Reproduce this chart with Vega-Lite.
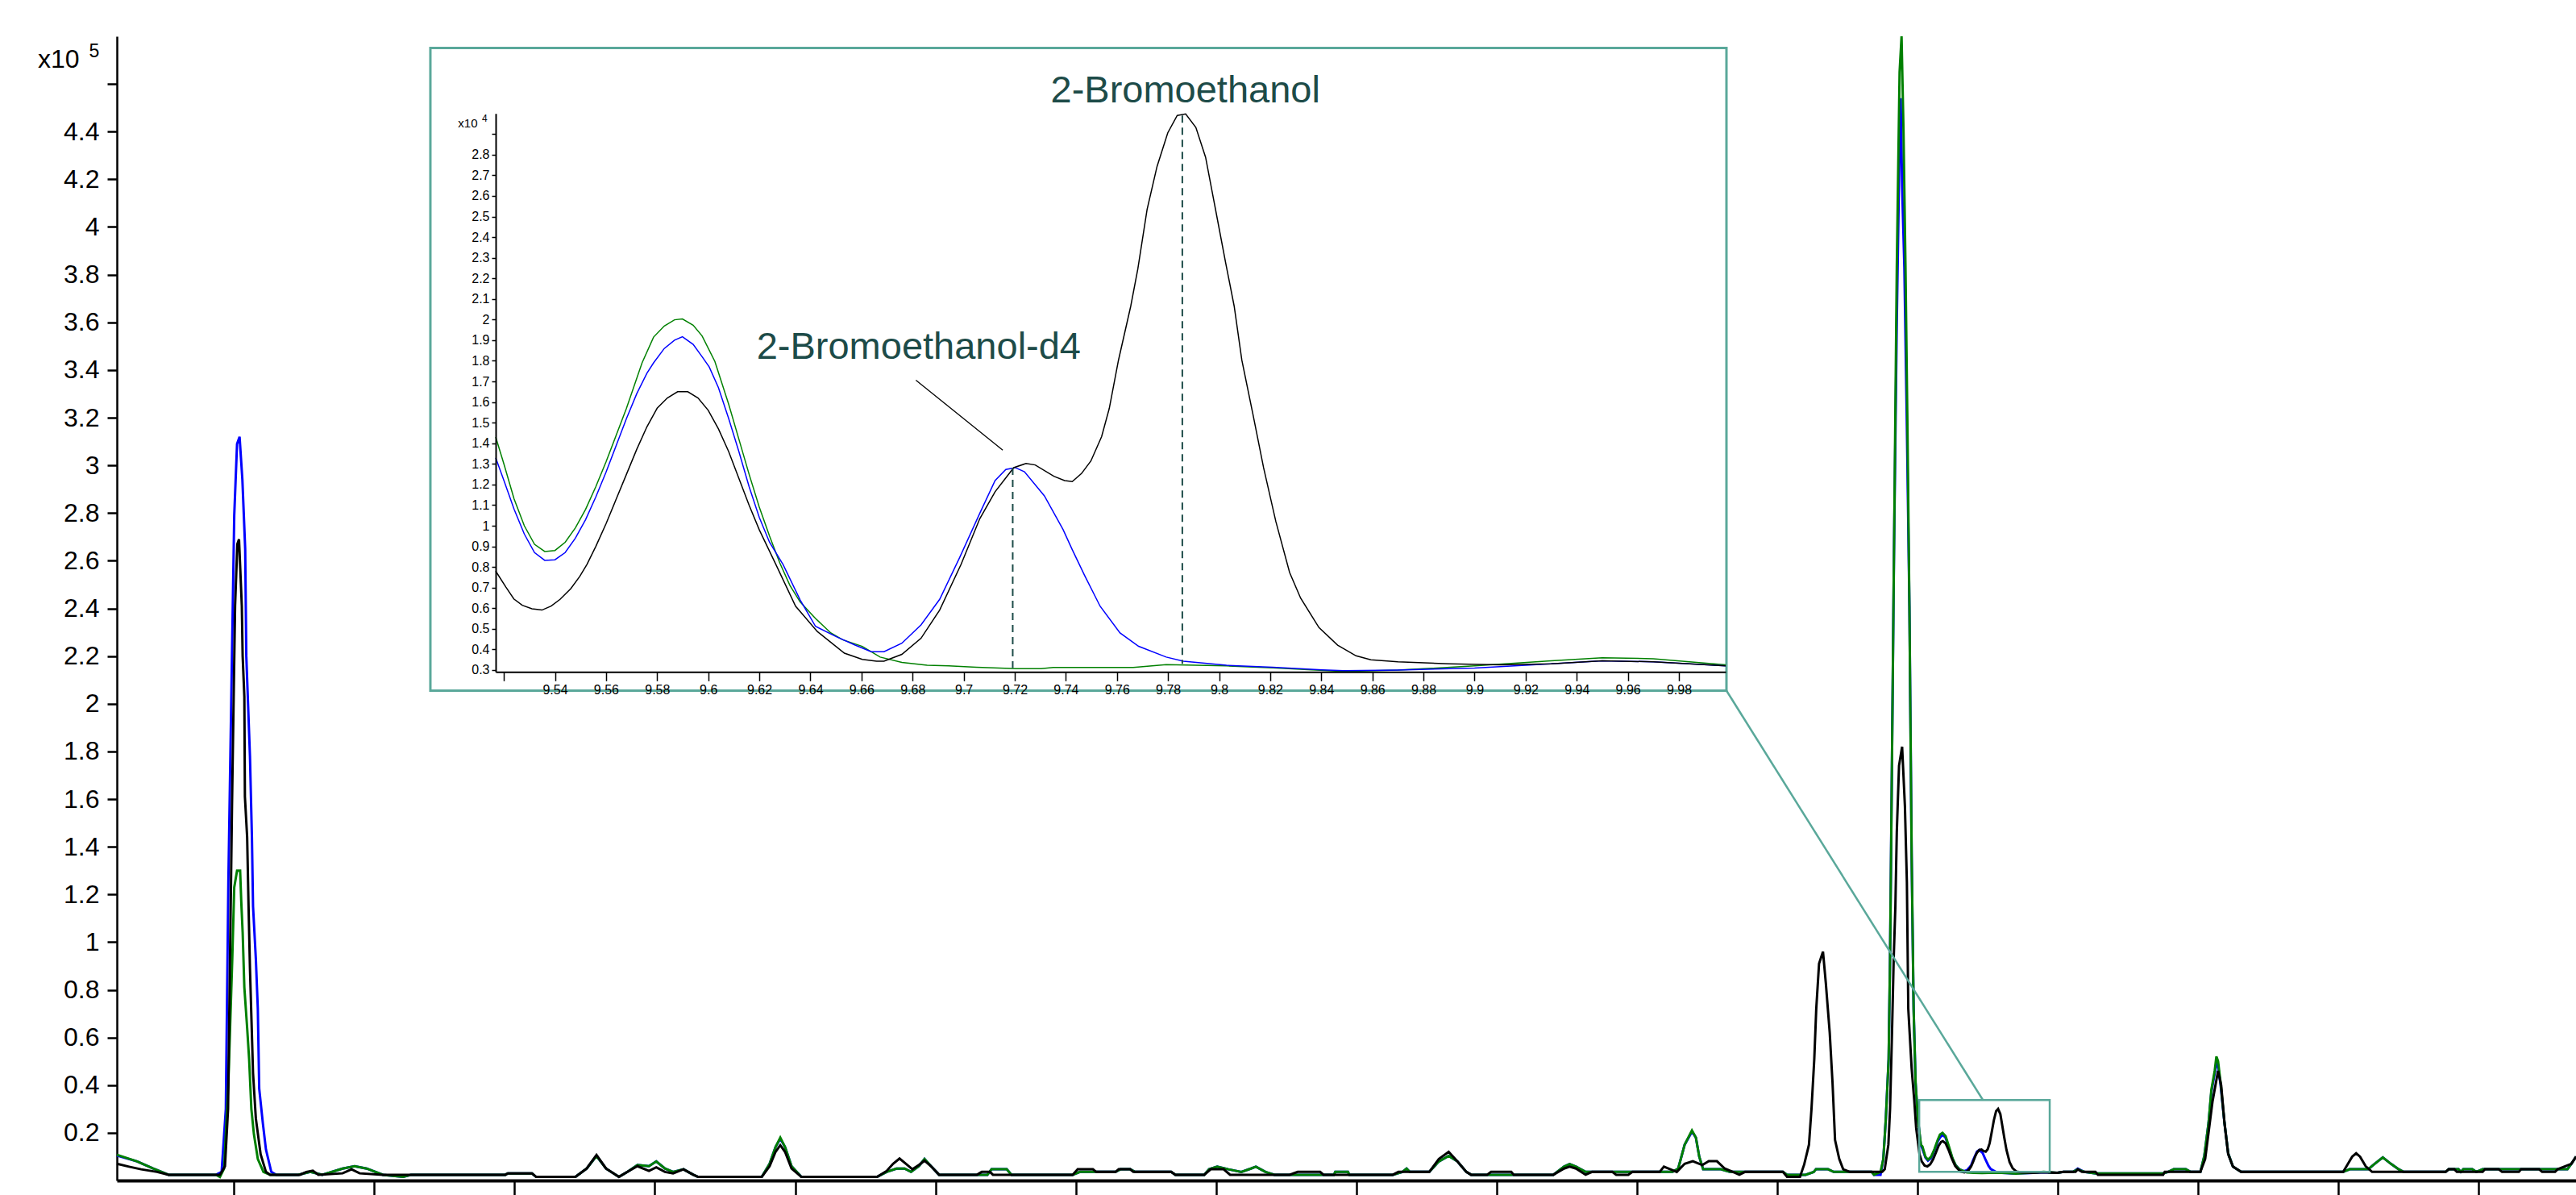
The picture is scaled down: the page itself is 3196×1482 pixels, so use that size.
{
  "$schema": "https://vega.github.io/schema/vega-lite/v6.json",
  "width": 3051,
  "height": 1419,
  "autosize": {"type": "none"},
  "padding": {"left": 145, "top": 45, "right": 0, "bottom": 18},
  "background": "white",
  "config": {
    "view": {"stroke": null},
    "font": "Liberation Sans",
    "axis": {"grid": false, "domainColor": "#000", "tickColor": "#000", "labelColor": "#000", "titleColor": "#000", "titleFontWeight": "normal", "labelFont": "Liberation Sans", "titleFont": "Liberation Sans", "labelOverlap": false, "labelFlush": false}
  },
  "datasets": {
    "mainBlue": [
      {"t":3.083,"v":0.105},{"t":3.155,"v":0.08},{"t":3.212,"v":0.05},{"t":3.267,"v":0.024},{"t":3.436,"v":0.024},{"t":3.456,"v":0.036},{"t":3.471,"v":0.3},{"t":3.48,"v":1.25},{"t":3.49,"v":1.99},{"t":3.501,"v":2.79},{"t":3.511,"v":3.09},{"t":3.52,"v":3.12},{"t":3.53,"v":2.94},{"t":3.54,"v":2.65},{"t":3.544,"v":2.2},{"t":3.557,"v":1.78},{"t":3.564,"v":1.44},{"t":3.568,"v":1.15},{"t":3.578,"v":0.93},{"t":3.585,"v":0.72},{"t":3.59,"v":0.385},{"t":3.603,"v":0.24},{"t":3.614,"v":0.13},{"t":3.633,"v":0.036},{"t":3.65,"v":0.024},
      {"t":3.729,"v":0.024},{"t":3.772,"v":0.036},{"t":3.815,"v":0.024},{"t":3.887,"v":0.05},{"t":3.93,"v":0.06},{"t":3.973,"v":0.05},{"t":4.031,"v":0.024},{"t":4.103,"v":0.015},{"t":4.131,"v":0.024},{"t":4.467,"v":0.024},{"t":4.476,"v":0.03},{"t":4.562,"v":0.03},{"t":4.577,"v":0.015},{"t":4.717,"v":0.015},{"t":4.757,"v":0.05},{"t":4.792,"v":0.103},{"t":4.826,"v":0.05},{"t":4.872,"v":0.015},{"t":4.907,"v":0.04},{"t":4.938,"v":0.065},{"t":4.979,"v":0.06},{"t":5.005,"v":0.08},{"t":5.036,"v":0.05},{"t":5.065,"v":0.036},{"t":5.102,"v":0.047},{"t":5.137,"v":0.024},{"t":5.154,"v":0.015},{"t":5.381,"v":0.015},{"t":5.409,"v":0.07},{"t":5.43,"v":0.14},{"t":5.447,"v":0.175},{"t":5.464,"v":0.14},{"t":5.487,"v":0.06},{"t":5.522,"v":0.015},{"t":5.792,"v":0.015},{"t":5.826,"v":0.036},{"t":5.861,"v":0.05},{"t":5.89,"v":0.05},{"t":5.913,"v":0.036},{"t":5.941,"v":0.06},{"t":5.961,"v":0.09},{"t":5.984,"v":0.06},{"t":6.013,"v":0.024},{"t":6.185,"v":0.024},{"t":6.2,"v":0.047},{"t":6.254,"v":0.047},{"t":6.271,"v":0.024},{"t":6.489,"v":0.024},{"t":6.515,"v":0.036},{"t":6.642,"v":0.036},{"t":6.659,"v":0.047},{"t":6.694,"v":0.047},{"t":6.711,"v":0.036},{"t":6.84,"v":0.036},{"t":6.855,"v":0.024},{"t":6.958,"v":0.024},{"t":6.975,"v":0.047},{"t":7.004,"v":0.058},{"t":7.044,"v":0.047},{"t":7.09,"v":0.036},{"t":7.124,"v":0.05},{"t":7.142,"v":0.058},{"t":7.176,"v":0.036},{"t":7.208,"v":0.024},{"t":7.42,"v":0.024},{"t":7.425,"v":0.036},{"t":7.47,"v":0.036},{"t":7.475,"v":0.024},{"t":7.63,"v":0.024},{"t":7.664,"v":0.036},{"t":7.679,"v":0.05},{"t":7.69,"v":0.036},{"t":7.76,"v":0.036},{"t":7.794,"v":0.08},{"t":7.829,"v":0.103},{"t":7.86,"v":0.08},{"t":7.892,"v":0.036},{"t":7.909,"v":0.024},{"t":8.202,"v":0.024},{"t":8.24,"v":0.058},{"t":8.26,"v":0.069},{"t":8.283,"v":0.058},{"t":8.317,"v":0.036},{"t":8.627,"v":0.036},{"t":8.647,"v":0.05},{"t":8.67,"v":0.15},{"t":8.696,"v":0.205},{"t":8.71,"v":0.18},{"t":8.722,"v":0.1},{"t":8.736,"v":0.047},{"t":8.799,"v":0.047},{"t":8.831,"v":0.036},{"t":9.02,"v":0.036},{"t":9.035,"v":0.024},{"t":9.101,"v":0.024},{"t":9.13,"v":0.036},{"t":9.138,"v":0.047},{"t":9.181,"v":0.047},{"t":9.201,"v":0.036},{"t":9.336,"v":0.036},{"t":9.345,"v":0.024},
      {"t":9.368,"v":0.024},{"t":9.378,"v":0.09},{"t":9.387,"v":0.26},{"t":9.397,"v":0.51},{"t":9.402,"v":0.93},{"t":9.409,"v":1.78},{"t":9.416,"v":2.63},{"t":9.426,"v":3.6},{"t":9.436,"v":4.35},{"t":9.44,"v":4.54},{"t":9.445,"v":4.17},{"t":9.453,"v":3.83},{"t":9.462,"v":3.16},{"t":9.471,"v":2.41},{"t":9.479,"v":1.36},{"t":9.486,"v":0.72},{"t":9.493,"v":0.41},{"t":9.501,"v":0.26},{"t":9.512,"v":0.145},
      {"t":9.5173,"v":0.133},{"t":9.528,"v":0.096},{"t":9.537,"v":0.083},{"t":9.548,"v":0.094},{"t":9.56,"v":0.126},{"t":9.572,"v":0.164},{"t":9.58,"v":0.18},{"t":9.59,"v":0.192},{"t":9.6,"v":0.179},{"t":9.612,"v":0.136},{"t":9.624,"v":0.092},{"t":9.636,"v":0.064},{"t":9.65,"v":0.046},{"t":9.666,"v":0.039},{"t":9.676,"v":0.043},{"t":9.683,"v":0.052},{"t":9.691,"v":0.064},{"t":9.698,"v":0.085},{"t":9.706,"v":0.106},{"t":9.712,"v":0.122},{"t":9.72,"v":0.128},{"t":9.732,"v":0.115},{"t":9.742,"v":0.088},{"t":9.753,"v":0.061},{"t":9.761,"v":0.048},{"t":9.779,"v":0.036},{"t":9.8,"v":0.032},{"t":9.84,"v":0.03},{"t":9.9,"v":0.031},{"t":9.95,"v":0.0345},{"t":9.998,"v":0.032},
      {"t":10.02,"v":0.036},{"t":10.054,"v":0.036},{"t":10.071,"v":0.05},{"t":10.094,"v":0.036},{"t":10.134,"v":0.03},{"t":10.375,"v":0.03},{"t":10.393,"v":0.036},{"t":10.413,"v":0.047},{"t":10.456,"v":0.047},{"t":10.473,"v":0.036},{"t":10.508,"v":0.036},{"t":10.522,"v":0.103},{"t":10.537,"v":0.24},{"t":10.547,"v":0.37},{"t":10.559,"v":0.45},{"t":10.565,"v":0.49},{"t":10.571,"v":0.48},{"t":10.58,"v":0.4},{"t":10.594,"v":0.24},{"t":10.607,"v":0.114},{"t":10.624,"v":0.058},{"t":10.653,"v":0.036},{"t":11.017,"v":0.036},{"t":11.04,"v":0.047},{"t":11.106,"v":0.047},{"t":11.129,"v":0.07},{"t":11.158,"v":0.097},{"t":11.187,"v":0.07},{"t":11.215,"v":0.047},{"t":11.232,"v":0.036},{"t":11.382,"v":0.036},{"t":11.393,"v":0.047},{"t":11.428,"v":0.047},{"t":11.436,"v":0.036},{"t":11.445,"v":0.047},{"t":11.477,"v":0.047},{"t":11.491,"v":0.036},{"t":11.514,"v":0.047},{"t":11.816,"v":0.047},{"t":11.83,"v":0.07},{"t":11.847,"v":0.1}
    ],
    "mainGreen": [
      {"t":3.083,"v":0.108},{"t":3.155,"v":0.08},{"t":3.212,"v":0.05},{"t":3.267,"v":0.024},{"t":3.436,"v":0.024},{"t":3.45,"v":0.015},{"t":3.465,"v":0.05},{"t":3.48,"v":0.41},{"t":3.494,"v":0.93},{"t":3.501,"v":1.23},{"t":3.511,"v":1.3},{"t":3.522,"v":1.3},{"t":3.526,"v":1.17},{"t":3.531,"v":1.04},{"t":3.537,"v":0.81},{"t":3.547,"v":0.64},{"t":3.554,"v":0.51},{"t":3.562,"v":0.3},{"t":3.571,"v":0.195},{"t":3.585,"v":0.09},{"t":3.605,"v":0.036},{"t":3.629,"v":0.024},
      {"t":3.729,"v":0.024},{"t":3.772,"v":0.036},{"t":3.815,"v":0.024},{"t":3.887,"v":0.05},{"t":3.93,"v":0.06},{"t":3.973,"v":0.05},{"t":4.031,"v":0.024},{"t":4.103,"v":0.015},{"t":4.131,"v":0.024},{"t":4.467,"v":0.024},{"t":4.476,"v":0.03},{"t":4.562,"v":0.03},{"t":4.577,"v":0.015},{"t":4.717,"v":0.015},{"t":4.757,"v":0.05},{"t":4.792,"v":0.103},{"t":4.826,"v":0.05},{"t":4.872,"v":0.015},{"t":4.907,"v":0.04},{"t":4.938,"v":0.065},{"t":4.979,"v":0.06},{"t":5.005,"v":0.08},{"t":5.036,"v":0.05},{"t":5.065,"v":0.036},{"t":5.102,"v":0.047},{"t":5.137,"v":0.024},{"t":5.154,"v":0.015},{"t":5.381,"v":0.015},{"t":5.409,"v":0.07},{"t":5.43,"v":0.14},{"t":5.447,"v":0.18},{"t":5.464,"v":0.14},{"t":5.487,"v":0.06},{"t":5.522,"v":0.015},{"t":5.792,"v":0.015},{"t":5.826,"v":0.036},{"t":5.861,"v":0.05},{"t":5.89,"v":0.05},{"t":5.913,"v":0.036},{"t":5.941,"v":0.06},{"t":5.961,"v":0.09},{"t":5.984,"v":0.06},{"t":6.013,"v":0.024},{"t":6.185,"v":0.024},{"t":6.2,"v":0.047},{"t":6.254,"v":0.047},{"t":6.271,"v":0.024},{"t":6.489,"v":0.024},{"t":6.515,"v":0.036},{"t":6.642,"v":0.036},{"t":6.659,"v":0.047},{"t":6.694,"v":0.047},{"t":6.711,"v":0.036},{"t":6.84,"v":0.036},{"t":6.855,"v":0.024},{"t":6.958,"v":0.024},{"t":6.975,"v":0.047},{"t":7.004,"v":0.058},{"t":7.044,"v":0.047},{"t":7.09,"v":0.036},{"t":7.124,"v":0.05},{"t":7.142,"v":0.058},{"t":7.176,"v":0.036},{"t":7.208,"v":0.024},{"t":7.42,"v":0.024},{"t":7.425,"v":0.036},{"t":7.47,"v":0.036},{"t":7.475,"v":0.024},{"t":7.63,"v":0.024},{"t":7.664,"v":0.036},{"t":7.679,"v":0.05},{"t":7.69,"v":0.036},{"t":7.76,"v":0.036},{"t":7.794,"v":0.08},{"t":7.829,"v":0.103},{"t":7.86,"v":0.08},{"t":7.892,"v":0.036},{"t":7.909,"v":0.024},{"t":8.202,"v":0.024},{"t":8.24,"v":0.058},{"t":8.26,"v":0.069},{"t":8.283,"v":0.058},{"t":8.317,"v":0.036},{"t":8.627,"v":0.036},{"t":8.647,"v":0.05},{"t":8.67,"v":0.15},{"t":8.696,"v":0.21},{"t":8.71,"v":0.18},{"t":8.722,"v":0.1},{"t":8.736,"v":0.047},{"t":8.799,"v":0.047},{"t":8.831,"v":0.036},{"t":9.02,"v":0.036},{"t":9.035,"v":0.024},{"t":9.101,"v":0.024},{"t":9.13,"v":0.036},{"t":9.138,"v":0.047},{"t":9.181,"v":0.047},{"t":9.201,"v":0.036},{"t":9.336,"v":0.036},{"t":9.345,"v":0.024},
      {"t":9.368,"v":0.036},{"t":9.378,"v":0.09},{"t":9.387,"v":0.26},{"t":9.397,"v":0.51},{"t":9.402,"v":0.93},{"t":9.409,"v":1.78},{"t":9.416,"v":2.63},{"t":9.426,"v":3.83},{"t":9.436,"v":4.65},{"t":9.443,"v":4.8},{"t":9.45,"v":4.4},{"t":9.457,"v":3.83},{"t":9.464,"v":3.16},{"t":9.471,"v":2.41},{"t":9.479,"v":1.36},{"t":9.486,"v":0.72},{"t":9.493,"v":0.41},{"t":9.501,"v":0.26},{"t":9.512,"v":0.15},
      {"t":9.5173,"v":0.143},{"t":9.528,"v":0.1},{"t":9.537,"v":0.0875},{"t":9.548,"v":0.099},{"t":9.56,"v":0.131},{"t":9.572,"v":0.171},{"t":9.58,"v":0.193},{"t":9.589,"v":0.2},{"t":9.6,"v":0.186},{"t":9.612,"v":0.142},{"t":9.624,"v":0.095},{"t":9.636,"v":0.063},{"t":9.648,"v":0.048},{"t":9.66,"v":0.041},{"t":9.676,"v":0.034},{"t":9.7,"v":0.032},{"t":9.73,"v":0.031},{"t":9.78,"v":0.033},{"t":9.82,"v":0.031},{"t":9.85,"v":0.029},{"t":9.9,"v":0.032},{"t":9.95,"v":0.036},{"t":9.998,"v":0.0325},
      {"t":10.02,"v":0.036},{"t":10.054,"v":0.036},{"t":10.071,"v":0.047},{"t":10.094,"v":0.036},{"t":10.134,"v":0.03},{"t":10.375,"v":0.03},{"t":10.393,"v":0.036},{"t":10.413,"v":0.047},{"t":10.456,"v":0.047},{"t":10.473,"v":0.036},{"t":10.508,"v":0.036},{"t":10.522,"v":0.103},{"t":10.537,"v":0.24},{"t":10.547,"v":0.38},{"t":10.559,"v":0.46},{"t":10.565,"v":0.52},{"t":10.571,"v":0.5},{"t":10.58,"v":0.41},{"t":10.594,"v":0.24},{"t":10.607,"v":0.114},{"t":10.624,"v":0.058},{"t":10.653,"v":0.036},{"t":11.017,"v":0.036},{"t":11.04,"v":0.047},{"t":11.106,"v":0.047},{"t":11.129,"v":0.07},{"t":11.158,"v":0.097},{"t":11.187,"v":0.07},{"t":11.215,"v":0.047},{"t":11.232,"v":0.036},{"t":11.382,"v":0.036},{"t":11.393,"v":0.047},{"t":11.428,"v":0.047},{"t":11.436,"v":0.036},{"t":11.445,"v":0.047},{"t":11.477,"v":0.047},{"t":11.491,"v":0.036},{"t":11.514,"v":0.047},{"t":11.816,"v":0.047},{"t":11.83,"v":0.07},{"t":11.847,"v":0.1}
    ],
    "mainBlack": [
      {"t":3.083,"v":0.07},{"t":3.126,"v":0.058},{"t":3.169,"v":0.047},{"t":3.226,"v":0.036},{"t":3.267,"v":0.024},{"t":3.45,"v":0.024},{"t":3.468,"v":0.06},{"t":3.479,"v":0.3},{"t":3.493,"v":1.57},{"t":3.504,"v":2.41},{"t":3.512,"v":2.67},{"t":3.518,"v":2.69},{"t":3.528,"v":2.41},{"t":3.531,"v":2.2},{"t":3.537,"v":2.03},{"t":3.539,"v":1.61},{"t":3.547,"v":1.44},{"t":3.552,"v":1.15},{"t":3.557,"v":0.89},{"t":3.568,"v":0.45},{"t":3.578,"v":0.26},{"t":3.595,"v":0.11},{"t":3.614,"v":0.036},{"t":3.629,"v":0.024},{"t":3.735,"v":0.024},{"t":3.758,"v":0.036},{"t":3.781,"v":0.041},{"t":3.801,"v":0.024},{"t":3.887,"v":0.03},{"t":3.919,"v":0.047},{"t":3.948,"v":0.03},{"t":4.031,"v":0.024},{"t":4.467,"v":0.024},{"t":4.476,"v":0.03},{"t":4.562,"v":0.03},{"t":4.577,"v":0.015},{"t":4.717,"v":0.015},{"t":4.757,"v":0.05},{"t":4.792,"v":0.107},{"t":4.826,"v":0.05},{"t":4.872,"v":0.015},{"t":4.907,"v":0.04},{"t":4.938,"v":0.06},{"t":4.979,"v":0.04},{"t":5.005,"v":0.055},{"t":5.036,"v":0.036},{"t":5.065,"v":0.03},{"t":5.102,"v":0.047},{"t":5.137,"v":0.024},{"t":5.154,"v":0.015},{"t":5.381,"v":0.015},{"t":5.409,"v":0.06},{"t":5.43,"v":0.12},{"t":5.447,"v":0.148},{"t":5.464,"v":0.12},{"t":5.487,"v":0.05},{"t":5.522,"v":0.015},{"t":5.792,"v":0.015},{"t":5.826,"v":0.04},{"t":5.849,"v":0.07},{"t":5.872,"v":0.092},{"t":5.895,"v":0.07},{"t":5.918,"v":0.047},{"t":5.941,"v":0.065},{"t":5.961,"v":0.083},{"t":5.984,"v":0.06},{"t":6.013,"v":0.024},{"t":6.148,"v":0.024},{"t":6.165,"v":0.036},{"t":6.194,"v":0.036},{"t":6.205,"v":0.024},{"t":6.489,"v":0.024},{"t":6.507,"v":0.047},{"t":6.561,"v":0.047},{"t":6.573,"v":0.036},{"t":6.642,"v":0.036},{"t":6.653,"v":0.047},{"t":6.694,"v":0.047},{"t":6.705,"v":0.036},{"t":6.84,"v":0.036},{"t":6.855,"v":0.024},{"t":6.958,"v":0.024},{"t":6.981,"v":0.047},{"t":7.027,"v":0.047},{"t":7.05,"v":0.024},{"t":7.262,"v":0.024},{"t":7.291,"v":0.036},{"t":7.371,"v":0.036},{"t":7.383,"v":0.024},{"t":7.63,"v":0.024},{"t":7.65,"v":0.036},{"t":7.76,"v":0.036},{"t":7.794,"v":0.09},{"t":7.829,"v":0.12},{"t":7.86,"v":0.08},{"t":7.892,"v":0.036},{"t":7.909,"v":0.024},{"t":7.966,"v":0.024},{"t":7.98,"v":0.036},{"t":8.052,"v":0.036},{"t":8.061,"v":0.024},{"t":8.202,"v":0.024},{"t":8.24,"v":0.05},{"t":8.26,"v":0.058},{"t":8.283,"v":0.05},{"t":8.317,"v":0.024},{"t":8.34,"v":0.036},{"t":8.412,"v":0.036},{"t":8.426,"v":0.024},{"t":8.469,"v":0.024},{"t":8.484,"v":0.036},{"t":8.581,"v":0.036},{"t":8.596,"v":0.058},{"t":8.619,"v":0.047},{"t":8.642,"v":0.036},{"t":8.67,"v":0.07},{"t":8.699,"v":0.081},{"t":8.733,"v":0.065},{"t":8.756,"v":0.081},{"t":8.785,"v":0.081},{"t":8.813,"v":0.05},{"t":8.842,"v":0.036},{"t":8.865,"v":0.024},{"t":8.885,"v":0.036},{"t":9.02,"v":0.036},{"t":9.035,"v":0.015},{"t":9.081,"v":0.015},{"t":9.096,"v":0.067},{"t":9.113,"v":0.15},{"t":9.122,"v":0.3},{"t":9.132,"v":0.51},{"t":9.139,"v":0.72},{"t":9.149,"v":0.91},{"t":9.163,"v":0.96},{"t":9.173,"v":0.83},{"t":9.187,"v":0.62},{"t":9.197,"v":0.41},{"t":9.206,"v":0.17},{"t":9.221,"v":0.09},{"t":9.235,"v":0.047},{"t":9.259,"v":0.036},{"t":9.374,"v":0.036},{"t":9.383,"v":0.047},{"t":9.396,"v":0.15},{"t":9.402,"v":0.3},{"t":9.409,"v":0.62},{"t":9.415,"v":0.93},{"t":9.421,"v":1.15},{"t":9.426,"v":1.46},{"t":9.434,"v":1.74},{"t":9.445,"v":1.82},{"t":9.455,"v":1.57},{"t":9.462,"v":1.25},{"t":9.467,"v":0.72},{"t":9.479,"v":0.47},{"t":9.488,"v":0.34},{"t":9.495,"v":0.22},{"t":9.507,"v":0.11},{"t":9.515,"v":0.08},{"t":9.525,"v":0.063},{"t":9.535,"v":0.059},{"t":9.545,"v":0.068},{"t":9.555,"v":0.088},{"t":9.565,"v":0.116},{"t":9.575,"v":0.146},{"t":9.584,"v":0.162},{"t":9.59,"v":0.165},{"t":9.6,"v":0.156},{"t":9.61,"v":0.13},{"t":9.62,"v":0.098},{"t":9.6265,"v":0.081},{"t":9.634,"v":0.061},{"t":9.643,"v":0.049},{"t":9.653,"v":0.038},{"t":9.667,"v":0.034},{"t":9.676,"v":0.038},{"t":9.683,"v":0.045},{"t":9.691,"v":0.059},{"t":9.699,"v":0.081},{"t":9.706,"v":0.103},{"t":9.712,"v":0.117},{"t":9.72,"v":0.128},{"t":9.728,"v":0.13},{"t":9.735,"v":0.124},{"t":9.743,"v":0.121},{"t":9.75,"v":0.131},{"t":9.757,"v":0.157},{"t":9.765,"v":0.207},{"t":9.772,"v":0.253},{"t":9.78,"v":0.291},{"t":9.787,"v":0.3},{"t":9.795,"v":0.279},{"t":9.802,"v":0.23},{"t":9.809,"v":0.18},{"t":9.817,"v":0.128},{"t":9.828,"v":0.077},{"t":9.839,"v":0.051},{"t":9.853,"v":0.037},{"t":9.87,"v":0.034},{"t":9.91,"v":0.0325},{"t":9.95,"v":0.0345},{"t":9.998,"v":0.032},{"t":10.02,"v":0.036},{"t":10.063,"v":0.036},{"t":10.071,"v":0.047},{"t":10.086,"v":0.036},{"t":10.134,"v":0.036},{"t":10.143,"v":0.024},{"t":10.375,"v":0.024},{"t":10.381,"v":0.036},{"t":10.508,"v":0.036},{"t":10.525,"v":0.09},{"t":10.537,"v":0.2},{"t":10.551,"v":0.33},{"t":10.571,"v":0.46},{"t":10.582,"v":0.4},{"t":10.594,"v":0.24},{"t":10.607,"v":0.11},{"t":10.624,"v":0.058},{"t":10.653,"v":0.036},{"t":11.017,"v":0.036},{"t":11.034,"v":0.07},{"t":11.049,"v":0.1},{"t":11.063,"v":0.114},{"t":11.077,"v":0.1},{"t":11.097,"v":0.06},{"t":11.12,"v":0.036},{"t":11.382,"v":0.036},{"t":11.393,"v":0.047},{"t":11.413,"v":0.047},{"t":11.422,"v":0.036},{"t":11.514,"v":0.036},{"t":11.522,"v":0.047},{"t":11.571,"v":0.047},{"t":11.583,"v":0.036},{"t":11.643,"v":0.036},{"t":11.651,"v":0.047},{"t":11.715,"v":0.047},{"t":11.726,"v":0.036},{"t":11.772,"v":0.036},{"t":11.781,"v":0.047},{"t":11.83,"v":0.07},{"t":11.847,"v":0.1}
    ],
    "insetGreen": [
      {"t":9.5168,"v":1.43},{"t":9.52,"v":1.3},{"t":9.524,"v":1.13},{"t":9.528,"v":1.0},{"t":9.532,"v":0.91},{"t":9.536,"v":0.875},{"t":9.54,"v":0.88},{"t":9.544,"v":0.92},{"t":9.548,"v":0.99},{"t":9.552,"v":1.08},{"t":9.556,"v":1.19},{"t":9.56,"v":1.31},{"t":9.564,"v":1.44},{"t":9.568,"v":1.57},{"t":9.5741,"v":1.79},{"t":9.5786,"v":1.915},{"t":9.5828,"v":1.969},{"t":9.5868,"v":1.999},{"t":9.5899,"v":2.003},{"t":9.5941,"v":1.973},{"t":9.5976,"v":1.921},{"t":9.6026,"v":1.797},{"t":9.608,"v":1.59},{"t":9.612,"v":1.42},{"t":9.616,"v":1.25},{"t":9.62,"v":1.09},{"t":9.624,"v":0.95},{"t":9.628,"v":0.82},{"t":9.632,"v":0.71},{"t":9.636,"v":0.63},{"t":9.642,"v":0.55},{"t":9.648,"v":0.48},{"t":9.6526,"v":0.447},{"t":9.6603,"v":0.415},{"t":9.6673,"v":0.363},{"t":9.6758,"v":0.337},{"t":9.6857,"v":0.323},{"t":9.6941,"v":0.32},{"t":9.705,"v":0.314},{"t":9.7206,"v":0.307},{"t":9.7303,"v":0.307},{"t":9.7351,"v":0.313},{"t":9.7664,"v":0.313},{"t":9.7793,"v":0.326},{"t":9.8029,"v":0.32},{"t":9.821,"v":0.311},{"t":9.8488,"v":0.293},{"t":9.87,"v":0.3},{"t":9.9,"v":0.32},{"t":9.93,"v":0.345},{"t":9.95,"v":0.36},{"t":9.97,"v":0.355},{"t":9.9983,"v":0.325}
    ],
    "insetBlue": [
      {"t":9.5168,"v":1.33},{"t":9.52,"v":1.22},{"t":9.524,"v":1.08},{"t":9.528,"v":0.96},{"t":9.532,"v":0.87},{"t":9.536,"v":0.832},{"t":9.54,"v":0.835},{"t":9.544,"v":0.87},{"t":9.548,"v":0.94},{"t":9.552,"v":1.03},{"t":9.556,"v":1.14},{"t":9.56,"v":1.26},{"t":9.564,"v":1.39},{"t":9.568,"v":1.52},{"t":9.572,"v":1.64},{"t":9.576,"v":1.74},{"t":9.5786,"v":1.79},{"t":9.5828,"v":1.86},{"t":9.5868,"v":1.9},{"t":9.5899,"v":1.917},{"t":9.5941,"v":1.88},{"t":9.5976,"v":1.82},{"t":9.6004,"v":1.77},{"t":9.604,"v":1.67},{"t":9.608,"v":1.52},{"t":9.612,"v":1.36},{"t":9.616,"v":1.19},{"t":9.62,"v":1.04},{"t":9.624,"v":0.92},{"t":9.6293,"v":0.812},{"t":9.636,"v":0.64},{"t":9.642,"v":0.512},{"t":9.6505,"v":0.46},{"t":9.6575,"v":0.421},{"t":9.6638,"v":0.389},{"t":9.6688,"v":0.389},{"t":9.6758,"v":0.43},{"t":9.6833,"v":0.519},{"t":9.6906,"v":0.643},{"t":9.6984,"v":0.845},{"t":9.7063,"v":1.06},{"t":9.7123,"v":1.219},{"t":9.7165,"v":1.273},{"t":9.7202,"v":1.282},{"t":9.7238,"v":1.262},{"t":9.7316,"v":1.145},{"t":9.7389,"v":0.982},{"t":9.7425,"v":0.884},{"t":9.7473,"v":0.76},{"t":9.7534,"v":0.61},{"t":9.7612,"v":0.48},{"t":9.7685,"v":0.415},{"t":9.7793,"v":0.363},{"t":9.786,"v":0.343},{"t":9.8029,"v":0.323},{"t":9.821,"v":0.314},{"t":9.8403,"v":0.301},{"t":9.8488,"v":0.297},{"t":9.87,"v":0.3},{"t":9.9,"v":0.31},{"t":9.93,"v":0.33},{"t":9.95,"v":0.345},{"t":9.97,"v":0.34},{"t":9.9983,"v":0.32}
    ],
    "insetBlack": [
      {"t":9.5168,"v":0.78},{"t":9.5208,"v":0.702},{"t":9.5239,"v":0.645},{"t":9.5272,"v":0.614},{"t":9.531,"v":0.597},{"t":9.5349,"v":0.591},{"t":9.5385,"v":0.61},{"t":9.542,"v":0.643},{"t":9.5462,"v":0.695},{"t":9.5497,"v":0.754},{"t":9.5525,"v":0.812},{"t":9.556,"v":0.9},{"t":9.56,"v":1.01},{"t":9.564,"v":1.13},{"t":9.568,"v":1.25},{"t":9.572,"v":1.37},{"t":9.576,"v":1.48},{"t":9.58,"v":1.57},{"t":9.584,"v":1.62},{"t":9.588,"v":1.65},{"t":9.592,"v":1.65},{"t":9.596,"v":1.62},{"t":9.6,"v":1.56},{"t":9.604,"v":1.47},{"t":9.608,"v":1.36},{"t":9.612,"v":1.23},{"t":9.616,"v":1.1},{"t":9.62,"v":0.98},{"t":9.6265,"v":0.812},{"t":9.6342,"v":0.61},{"t":9.6427,"v":0.487},{"t":9.6533,"v":0.382},{"t":9.6603,"v":0.352},{"t":9.6659,"v":0.343},{"t":9.6688,"v":0.343},{"t":9.6758,"v":0.376},{"t":9.6833,"v":0.454},{"t":9.6906,"v":0.591},{"t":9.699,"v":0.813},{"t":9.7063,"v":1.034},{"t":9.7123,"v":1.165},{"t":9.7196,"v":1.282},{"t":9.7244,"v":1.302},{"t":9.728,"v":1.295},{"t":9.7353,"v":1.24},{"t":9.7395,"v":1.219},{"t":9.7425,"v":1.214},{"t":9.7461,"v":1.253},{"t":9.7498,"v":1.314},{"t":9.754,"v":1.432},{"t":9.757,"v":1.569},{"t":9.7606,"v":1.803},{"t":9.7654,"v":2.065},{"t":9.7682,"v":2.247},{"t":9.7718,"v":2.534},{"t":9.7757,"v":2.743},{"t":9.7799,"v":2.906},{"t":9.7836,"v":2.99},{"t":9.7869,"v":2.998},{"t":9.7909,"v":2.932},{"t":9.7947,"v":2.788},{"t":9.7984,"v":2.547},{"t":9.8026,"v":2.273},{"t":9.8059,"v":2.065},{"t":9.8089,"v":1.803},{"t":9.8132,"v":1.543},{"t":9.8174,"v":1.282},{"t":9.8222,"v":1.021},{"t":9.8276,"v":0.773},{"t":9.8319,"v":0.649},{"t":9.8391,"v":0.506},{"t":9.8464,"v":0.421},{"t":9.8536,"v":0.369},{"t":9.8594,"v":0.35},{"t":9.87,"v":0.34},{"t":9.89,"v":0.33},{"t":9.91,"v":0.325},{"t":9.93,"v":0.33},{"t":9.95,"v":0.345},{"t":9.97,"v":0.34},{"t":9.9983,"v":0.32}
    ]
  },
  "layer": [
    {
      "data": {"name": "mainBlue"},
      "mark": {"type": "line", "color": "#0000ff", "strokeWidth": 3},
      "encoding": {
        "x": {"field": "t", "type": "quantitative", "scale": {"domain": [3.0827, 11.8466], "nice": false, "zero": false},
          "axis": {"orient": "bottom", "values": [3.5,4,4.5,5,5.5,6,6.5,7,7.5,8,8.5,9,9.5,10,10.5,11,11.5], "labels": false, "tickSize": 22, "tickWidth": 2.5, "domainWidth": 4, "title": null}},
        "y": {"field": "v", "type": "quantitative", "scale": {"domain": [0, 4.8], "nice": false, "zero": false},
          "axis": {"orient": "left", "values": [0.2,0.4,0.6,0.8,1,1.2,1.4,1.6,1.8,2,2.2,2.4,2.6,2.8,3,3.2,3.4,3.6,3.8,4,4.2,4.4,4.6],
            "labelExpr": "datum.value > 4.5 ? '' : format(datum.value, '~g')",
            "tickSize": 12, "tickWidth": 2.5, "domainWidth": 2.5, "labelFontSize": 32, "labelPadding": 10,
            "title": "x10", "titleAngle": 0, "titleAlign": "right", "titleBaseline": "alphabetic", "titleX": -47, "titleY": 38, "titleFontSize": 32}}
      }
    },
    {
      "data": {"name": "mainGreen"},
      "mark": {"type": "line", "color": "#008000", "strokeWidth": 3},
      "encoding": {
        "x": {"field": "t", "type": "quantitative", "scale": {"domain": [3.0827, 11.8466], "nice": false, "zero": false}, "axis": null},
        "y": {"field": "v", "type": "quantitative", "scale": {"domain": [0, 4.8], "nice": false, "zero": false}, "axis": null}
      }
    },
    {
      "data": {"name": "mainBlack"},
      "mark": {"type": "line", "color": "#000000", "strokeWidth": 3},
      "encoding": {
        "x": {"field": "t", "type": "quantitative", "scale": {"domain": [3.0827, 11.8466], "nice": false, "zero": false}, "axis": null},
        "y": {"field": "v", "type": "quantitative", "scale": {"domain": [0, 4.8], "nice": false, "zero": false}, "axis": null}
      }
    },
    {
      "data": {"values": [{"x1": 4.2, "x2": 8.819, "y1": 2.055, "y2": 4.751}]},
      "mark": {"type": "rect", "fill": "white", "stroke": "#5aa89a", "strokeWidth": 3},
      "encoding": {
        "x": {"field": "x1", "type": "quantitative", "scale": {"domain": [3.0827, 11.8466], "nice": false, "zero": false}, "axis": null},
        "x2": {"field": "x2"},
        "y": {"field": "y1", "type": "quantitative", "scale": {"domain": [0, 4.8], "nice": false, "zero": false}, "axis": null},
        "y2": {"field": "y2"}
      }
    },
    {
      "data": {"values": [{"x1": 9.506, "x2": 9.971, "y1": 0.0365, "y2": 0.3375}]},
      "mark": {"type": "rect", "fillOpacity": 0, "stroke": "#5aa89a", "strokeWidth": 2.5},
      "encoding": {
        "x": {"field": "x1", "type": "quantitative", "scale": {"domain": [3.0827, 11.8466], "nice": false, "zero": false}, "axis": null},
        "x2": {"field": "x2"},
        "y": {"field": "y1", "type": "quantitative", "scale": {"domain": [0, 4.8], "nice": false, "zero": false}, "axis": null},
        "y2": {"field": "y2"}
      }
    },
    {
      "data": {"values": [{"x1": 8.819, "y1": 2.055, "x2": 9.733, "y2": 0.3375}]},
      "mark": {"type": "rule", "color": "#5aa89a", "strokeWidth": 2.5},
      "encoding": {
        "x": {"field": "x1", "type": "quantitative", "scale": {"domain": [3.0827, 11.8466], "nice": false, "zero": false}, "axis": null},
        "x2": {"field": "x2"},
        "y": {"field": "y1", "type": "quantitative", "scale": {"domain": [0, 4.8], "nice": false, "zero": false}, "axis": null},
        "y2": {"field": "y2"}
      }
    },
    {
      "data": {"values": [{"label": "5", "t": 3.0023, "v": 4.7135}]},
      "mark": {"type": "text", "fontSize": 23, "align": "center", "baseline": "alphabetic", "color": "#000"},
      "encoding": {
        "x": {"field": "t", "type": "quantitative", "scale": {"domain": [3.0827, 11.8466], "nice": false, "zero": false}, "axis": null},
        "y": {"field": "v", "type": "quantitative", "scale": {"domain": [0, 4.8], "nice": false, "zero": false}, "axis": null},
        "text": {"field": "label"}
      }
    },
    {
      "data": {"name": "insetGreen"},
      "mark": {"type": "line", "color": "#008000", "strokeWidth": 1.5},
      "encoding": {
        "x": {"field": "t", "type": "quantitative", "scale": {"domain": [9.5168, 9.9983], "range": [470, 1996], "nice": false, "zero": false},
          "axis": {"orient": "bottom", "offset": -630.7, "zindex": 2, "values": [9.52,9.54,9.56,9.58,9.6,9.62,9.64,9.66,9.68,9.7,9.72,9.74,9.76,9.78,9.8,9.82,9.84,9.86,9.88,9.9,9.92,9.94,9.96,9.98],
            "labelExpr": "datum.value < 9.53 ? '' : format(datum.value, '~g')",
            "tickSize": 11, "tickWidth": 1.5, "domainWidth": 2, "labelFontSize": 16, "labelPadding": 3, "title": null}},
        "y": {"field": "v", "type": "quantitative", "scale": {"domain": [0.2909, 3.0], "range": [788.3, 95.7], "nice": false, "zero": false},
          "axis": {"orient": "left", "offset": -470, "zindex": 2, "values": [0.3,0.4,0.5,0.6,0.7,0.8,0.9,1,1.1,1.2,1.3,1.4,1.5,1.6,1.7,1.8,1.9,2,2.1,2.2,2.3,2.4,2.5,2.6,2.7,2.8,2.9],
            "labelExpr": "datum.value > 2.85 ? '' : format(datum.value, '~g')",
            "tickSize": 5, "tickWidth": 1.5, "domainWidth": 2, "labelFontSize": 16, "labelPadding": 3,
            "title": "x10", "titleAngle": 0, "titleAlign": "right", "titleBaseline": "alphabetic", "titleX": -23, "titleY": 112.3, "titleFontSize": 15}}
      }
    },
    {
      "data": {"name": "insetBlue"},
      "mark": {"type": "line", "color": "#0000ff", "strokeWidth": 1.5},
      "encoding": {
        "x": {"field": "t", "type": "quantitative", "scale": {"domain": [9.5168, 9.9983], "range": [470, 1996], "nice": false, "zero": false}, "axis": null},
        "y": {"field": "v", "type": "quantitative", "scale": {"domain": [0.2909, 3.0], "range": [788.3, 95.7], "nice": false, "zero": false}, "axis": null}
      }
    },
    {
      "data": {"name": "insetBlack"},
      "mark": {"type": "line", "color": "#000000", "strokeWidth": 1.5},
      "encoding": {
        "x": {"field": "t", "type": "quantitative", "scale": {"domain": [9.5168, 9.9983], "range": [470, 1996], "nice": false, "zero": false}, "axis": null},
        "y": {"field": "v", "type": "quantitative", "scale": {"domain": [0.2909, 3.0], "range": [788.3, 95.7], "nice": false, "zero": false}, "axis": null}
      }
    },
    {
      "data": {"values": [{"t": 9.7192, "top": 1.282, "bot": 0.31}, {"t": 9.7856, "top": 2.99, "bot": 0.33}]},
      "mark": {"type": "rule", "color": "#1d4b48", "strokeWidth": 2, "strokeDash": [9, 6]},
      "encoding": {
        "x": {"field": "t", "type": "quantitative", "scale": {"domain": [9.5168, 9.9983], "range": [470, 1996], "nice": false, "zero": false}, "axis": null},
        "y": {"field": "top", "type": "quantitative", "scale": {"domain": [0.2909, 3.0], "range": [788.3, 95.7], "nice": false, "zero": false}, "axis": null},
        "y2": {"field": "bot"}
      }
    },
    {
      "data": {"values": [{"t1": 9.6813, "v1": 1.706, "t2": 9.7153, "v2": 1.367}]},
      "mark": {"type": "rule", "color": "#000000", "strokeWidth": 1.3},
      "encoding": {
        "x": {"field": "t1", "type": "quantitative", "scale": {"domain": [9.5168, 9.9983], "range": [470, 1996], "nice": false, "zero": false}, "axis": null},
        "x2": {"field": "t2"},
        "y": {"field": "v1", "type": "quantitative", "scale": {"domain": [0.2909, 3.0], "range": [788.3, 95.7], "nice": false, "zero": false}, "axis": null},
        "y2": {"field": "v2"}
      }
    },
    {
      "data": {"values": [{"label": "2-Bromoethanol", "t": 9.7868, "v": 3.055}, {"label": "2-Bromoethanol-d4", "t": 9.6824, "v": 1.81}]},
      "mark": {"type": "text", "fontSize": 47, "align": "center", "baseline": "alphabetic", "color": "#1d4b48"},
      "encoding": {
        "x": {"field": "t", "type": "quantitative", "scale": {"domain": [9.5168, 9.9983], "range": [470, 1996], "nice": false, "zero": false}, "axis": null},
        "y": {"field": "v", "type": "quantitative", "scale": {"domain": [0.2909, 3.0], "range": [788.3, 95.7], "nice": false, "zero": false}, "axis": null},
        "text": {"field": "label"}
      }
    },
    {
      "data": {"values": [{"label": "4", "t": 9.5125, "v": 2.958}]},
      "mark": {"type": "text", "fontSize": 12, "align": "center", "baseline": "alphabetic", "color": "#000"},
      "encoding": {
        "x": {"field": "t", "type": "quantitative", "scale": {"domain": [9.5168, 9.9983], "range": [470, 1996], "nice": false, "zero": false}, "axis": null},
        "y": {"field": "v", "type": "quantitative", "scale": {"domain": [0.2909, 3.0], "range": [788.3, 95.7], "nice": false, "zero": false}, "axis": null},
        "text": {"field": "label"}
      }
    }
  ],
  "resolve": {"scale": {"x": "independent", "y": "independent"}, "axis": {"x": "independent", "y": "independent"}}
}
